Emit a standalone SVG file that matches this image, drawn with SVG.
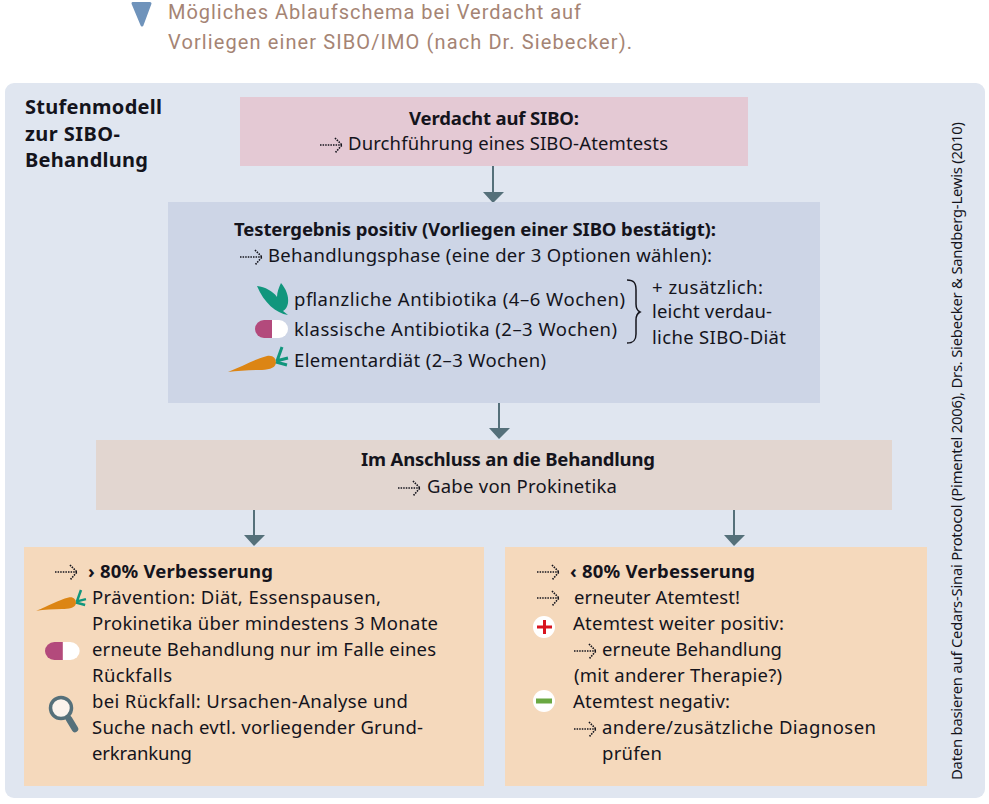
<svg xmlns="http://www.w3.org/2000/svg" xmlns:xlink="http://www.w3.org/1999/xlink" width="989" height="804" viewBox="0 0 989 804">
<style>
text{font-family:"Noto Sans","Open Sans","Liberation Sans",sans-serif;font-size:18.5px;fill:#14141c}
.b{font-weight:700}
.t{font-family:Roboto,"Noto Sans",sans-serif;font-size:20px;fill:#a58474}
.h{font-size:20px;font-weight:700}
.r{font-size:14.8px}
.ar{fill:none;stroke:#55707a;stroke-width:2}
.ah{fill:#55707a}
.dl{fill:none;stroke:#14141c;stroke-width:1.6;stroke-dasharray:1.5 1.1}
</style>
<defs>
<g id="da"><path class="dl" d="M0 0H22M15 -7L22 0L15 8"/></g>
<g id="pill"><path d="M17 0H9A9 9 0 0 0 9 18H17Z" fill="#b34a7c"/><path d="M17 0H24A9 9 0 0 1 24 18H17Z" fill="#fff"/></g>
<g id="carrot"><path d="M-1 25C14 19 26 12 38 9C44 8 47 11 47 16C46 22 38 23 30 23C20 23 8 24 -1 25Z" fill="#dc8514"/><path d="M48 14L53 0M47 14L59 11M47 15L58 18" fill="none" stroke="#11967d" stroke-width="3"/></g>
</defs>
<rect width="989" height="804" fill="#fff"/>
<g id="title">
<path d="M133 3.500H150L142 25Z" fill="#6f93bb" stroke="#6f93bb" stroke-width="3" stroke-linejoin="round"/>
<text class="t" x="168" y="18.500" textLength="413">Mögliches Ablaufschema bei Verdacht auf</text>
<text class="t" x="168" y="49" textLength="464">Vorliegen einer SIBO/IMO (nach Dr. Siebecker).</text>
</g>
<g id="panel">
<rect x="5" y="83" width="980" height="715" rx="9" fill="#e0e6f0"/>
<text class="h" x="25" y="114" textLength="137">Stufenmodell</text>
<text class="h" x="25" y="141" textLength="95">zur SIBO-</text>
<text class="h" x="25" y="167" textLength="123">Behandlung</text>
<text class="r" transform="translate(962 780) rotate(-90)" textLength="658">Daten basieren auf Cedars-Sinai Protocol (Pimentel 2006), Drs. Siebecker &amp; Sandberg-Lewis (2010)</text>
</g>
<g id="connectors">
<path class="ar" d="M493 166V193M499 403V430M254 510V537M734 510V537"/>
<path class="ah" d="M483 192H504L493 203ZM489 428H510L499 439ZM244 535H265L254 546ZM724 535H745L734 546Z"/>
</g>
<g id="node-verdacht">
<rect x="240" y="97" width="508" height="69" fill="#e4c9d4"/>
<text class="b" x="409" y="125" textLength="170">Verdacht auf SIBO:</text>
<use xlink:href="#da" href="#da" x="320" y="145"/>
<text x="348" y="150" textLength="320">Durchführung eines SIBO-Atemtests</text>
</g>
<g id="node-test">
<rect x="168" y="202" width="652" height="201" fill="#cdd5e6"/>
<text class="b" x="234" y="236" textLength="482">Testergebnis positiv (Vorliegen einer SIBO bestätigt):</text>
<use xlink:href="#da" href="#da" x="240" y="257"/>
<text x="268" y="262" textLength="444">Behandlungsphase (eine der 3 Optionen wählen):</text>
<path d="M257 286C265 287 273 291 277 297C277 292 279 287 281 283C286 289 289 296 288 303C287 308 285 310 283 311L288 315C276 313 264 303 257 286Z" fill="#11967d"/>
<use xlink:href="#pill" href="#pill" x="255" y="320"/>
<use xlink:href="#carrot" href="#carrot" x="229" y="347"/>
<text x="294" y="306" textLength="331">pflanzliche Antibiotika (4–6 Wochen)</text>
<text x="294" y="336" textLength="323">klassische Antibiotika (2–3 Wochen)</text>
<text x="294" y="367" textLength="252">Elementardiät (2–3 Wochen)</text>
<path d="M627 280C634 280 636 283 636 290V304C636 309 638 311 640 312C638 313 636 315 636 320V334C636 340 634 343 627 343" fill="none" stroke="#14141c" stroke-width="1.5"/>
<text x="652" y="294" textLength="111">+ zusätzlich:</text>
<text x="652" y="318" textLength="120">leicht verdau-</text>
<text x="652" y="344" textLength="134">liche SIBO-Diät</text>
</g>
<g id="node-anschluss">
<rect x="96" y="440" width="796" height="70" fill="#e2d6d0"/>
<text class="b" x="361" y="466" textLength="294">Im Anschluss an die Behandlung</text>
<use xlink:href="#da" href="#da" x="398" y="488"/>
<text x="427" y="493" textLength="190">Gabe von Prokinetika</text>
</g>
<g id="node-links">
<rect x="24" y="547" width="460" height="239" fill="#f5d9bc"/>
<use xlink:href="#da" href="#da" x="55" y="572"/>
<text class="b" x="88" y="578" textLength="185">› 80% Verbesserung</text>
<use xlink:href="#carrot" href="#carrot" transform="translate(37 590) scale(.83)"/>
<use xlink:href="#pill" href="#pill" transform="translate(45 642) scale(1.05 1)"/>
<circle cx="61" cy="708" r="10.500" fill="#fbf3ec" stroke="#55707a" stroke-width="3.500"/>
<path d="M69 719L75 729" stroke="#55707a" stroke-width="6.500" stroke-linecap="round"/>
<text x="92" y="604" textLength="289">Prävention: Diät, Essenspausen,</text>
<text x="92" y="630" textLength="346">Prokinetika über mindestens 3 Monate</text>
<text x="92" y="656" textLength="344">erneute Behandlung nur im Falle eines</text>
<text x="92" y="682" textLength="80">Rückfalls</text>
<text x="92" y="708" textLength="316">bei Rückfall: Ursachen-Analyse und</text>
<text x="92" y="734" textLength="331">Suche nach evtl. vorliegender Grund-</text>
<text x="92" y="760" textLength="100">erkrankung</text>
</g>
<g id="node-rechts">
<rect x="505" y="547" width="422" height="239" fill="#f5d9bc"/>
<use xlink:href="#da" href="#da" x="537" y="572"/>
<text class="b" x="570" y="578" textLength="185">‹ 80% Verbesserung</text>
<use xlink:href="#da" href="#da" x="537" y="598"/>
<text x="574" y="604" textLength="166">erneuter Atemtest!</text>
<circle cx="544" cy="627" r="11" fill="#fff"/>
<path d="M537 625.500H552V628.500H537ZM543 620H546V634H543Z" fill="#d8141e"/>
<text x="573" y="630" textLength="211">Atemtest weiter positiv:</text>
<use xlink:href="#da" href="#da" x="574" y="651"/>
<text x="602" y="656" textLength="180">erneute Behandlung</text>
<text x="574" y="682" textLength="208">(mit anderer Therapie?)</text>
<circle cx="544" cy="701" r="11" fill="#fff"/>
<rect x="536" y="698.500" width="16" height="5" fill="#6aa842"/>
<text x="573" y="708" textLength="157">Atemtest negativ:</text>
<use xlink:href="#da" href="#da" x="574" y="729"/>
<text x="602" y="734" textLength="274">andere/zusätzliche Diagnosen</text>
<text x="602" y="760" textLength="60">prüfen</text>
</g>
</svg>
